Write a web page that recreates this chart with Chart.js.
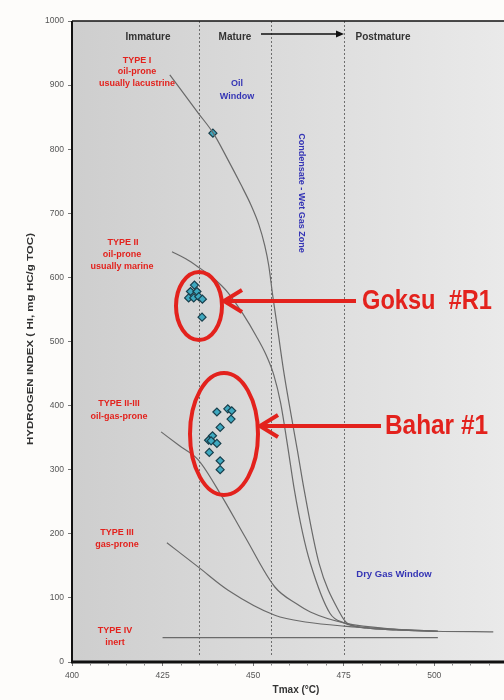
<!DOCTYPE html>
<html>
<head>
<meta charset="utf-8">
<script src="https://cdn.jsdelivr.net/npm/chart.js@4.4.1/dist/chart.umd.min.js"></script>
<style>
  html, body { margin: 0; padding: 0; background: #fdfcfa; overflow: hidden; }
  canvas { display: block; }
</style>
</head>
<body>
<canvas id="myChart" width="530" height="700"></canvas>
<script>
// kerogen type curves (Tmax, HI)
const typeI_T = [427, 434.9, 439, 443.1, 446.7, 449.4, 451.6, 453.2, 454.3, 455.4, 456.8, 458.4, 460, 462.2, 464.1, 468.2, 474, 475.9, 481.3, 489.5, 500.4, 516.3];
const typeI_HI = [916, 856, 825, 783, 744, 713, 682, 650, 619, 572, 518, 455, 401, 331, 268, 154, 76, 61, 53, 50, 48, 47];
const typeII_T = [427.6, 431.4, 434.9, 439, 443.1, 447.2, 450.8, 453.5, 455.7, 457.6, 459.5, 461.4, 463.6, 465.8, 471.2, 475.1, 481.3, 489.5, 501];
const typeII_HI = [640, 629, 616, 599, 576, 543, 509, 480, 448, 404, 338, 268, 203, 154, 76, 61, 53, 50, 48];
const typeII_III_T = [424.6, 429.5, 434.9, 441.2, 447.8, 456, 462.2, 465.8, 475.1, 489.5, 501];
const typeII_III_HI = [359, 338, 315, 260, 195, 117, 90, 78, 61, 51, 48];
const typeIII_T = [426.2, 434.9, 443.1, 456, 465, 475.1, 489.5, 501];
const typeIII_HI = [186, 148, 112, 73, 62, 56, 51, 48];
const typeIV_T = [425, 501];
const typeIV_HI = [38, 38];

// samples
const goksuT = [438.9, 433.8, 432.7, 434.5, 432.2, 433.6, 435, 436, 435.9];
const goksuHI = [825, 588, 578, 578, 568, 568, 570, 566, 538];
const baharT = [440, 443, 444.1, 443.9, 440.9, 438.8, 437.7, 438.4, 440, 437.9, 440.9, 440.9];
const baharHI = [390, 395, 392, 379, 366, 353, 346, 345, 341, 327, 314, 300];

// maturity zone boundaries
const zoneT = [435, 455, 475];

const xTicks = [400, 425, 450, 475, 500, 525];
const yTicks = [0, 100, 200, 300, 400, 500, 600, 700, 800, 900, 1000];

const pts = (xs, ys) => xs.map((x, i) => ({ x: x, y: ys[i] }));

function curve(xs, ys) {
    return {
        data: pts(xs, ys),
        showLine: true,
        borderColor: "#6a6a6a",
        borderWidth: 1.2,
        pointRadius: 0,
        cubicInterpolationMode: "monotone",
        fill: false,
    };
}

function samples(xs, ys) {
    return {
        data: pts(xs, ys),
        pointStyle: "rectRot",
        pointRadius: 4,
        backgroundColor: "#3fa9c0",
        borderColor: "#183f4c",
        borderWidth: 1.2,
    };
}

const RED = "#e3221d";
const BLUE = "#3535b5";
const FONT = "'Liberation Sans', Arial, sans-serif";

const labels = [
    { t: "Immature", x: 148, y: 37, c: "#333", f: "bold 10px " + FONT },
    { t: "Mature", x: 235, y: 37, c: "#333", f: "bold 10px " + FONT },
    { t: "Postmature", x: 383, y: 37, c: "#333", f: "bold 10px " + FONT },
    { t: "TYPE I", x: 137, y: 61, c: RED, f: "bold 9px " + FONT },
    { t: "oil-prone", x: 137, y: 72, c: RED, f: "bold 9px " + FONT },
    { t: "usually lacustrine", x: 137, y: 84, c: RED, f: "bold 9px " + FONT },
    { t: "Oil", x: 237, y: 84, c: BLUE, f: "bold 9px " + FONT },
    { t: "Window", x: 237, y: 97, c: BLUE, f: "bold 9px " + FONT },
    { t: "TYPE II", x: 123, y: 243, c: RED, f: "bold 9px " + FONT },
    { t: "oil-prone", x: 122, y: 255, c: RED, f: "bold 9px " + FONT },
    { t: "usually marine", x: 122, y: 267, c: RED, f: "bold 9px " + FONT },
    { t: "TYPE II-III", x: 119, y: 404, c: RED, f: "bold 9px " + FONT },
    { t: "oil-gas-prone", x: 119, y: 417, c: RED, f: "bold 9px " + FONT },
    { t: "TYPE III", x: 117, y: 533, c: RED, f: "bold 9px " + FONT },
    { t: "gas-prone", x: 117, y: 545, c: RED, f: "bold 9px " + FONT },
    { t: "TYPE IV", x: 115, y: 631, c: RED, f: "bold 9px " + FONT },
    { t: "inert", x: 115, y: 643, c: RED, f: "bold 9px " + FONT },
    { t: "Dry Gas Window", x: 394, y: 574, c: BLUE, f: "bold 9.5px " + FONT },
    { t: "Tmax (°C)", x: 296, y: 690, c: "#333", f: "bold 10px " + FONT },
];

const decorPlugin = {
    id: "decor",
    beforeDraw(chart) {
        const ctx = chart.ctx, a = chart.chartArea;
        ctx.save();
        ctx.fillStyle = "#fdfcfa";
        ctx.fillRect(0, 0, chart.width, chart.height);
        const g = ctx.createLinearGradient(a.left, 0, a.right, 0);
        g.addColorStop(0, "#cecece");
        g.addColorStop(1, "#ebebeb");
        ctx.fillStyle = g;
        ctx.fillRect(a.left, a.top, a.right - a.left, a.bottom - a.top);
        ctx.restore();
    },
    beforeDatasetsDraw(chart) {
        const ctx = chart.ctx, a = chart.chartArea, xs = chart.scales.x;
        ctx.save();
        ctx.strokeStyle = "#6e6e6e";
        ctx.lineWidth = 1;
        ctx.setLineDash([2, 2]);
        zoneT.forEach(t => {
            const px = Math.round(xs.getPixelForValue(t)) + 0.5;
            ctx.beginPath();
            ctx.moveTo(px, a.top);
            ctx.lineTo(px, a.bottom - 5);
            ctx.stroke();
        });
        ctx.restore();
    },
    afterDatasetsDraw(chart) {
        const ctx = chart.ctx, a = chart.chartArea, xs = chart.scales.x;
        ctx.save();
        // frame
        ctx.strokeStyle = "#111";
        ctx.lineWidth = 1.5;
        ctx.beginPath();
        ctx.moveTo(a.left, a.top);
        ctx.lineTo(a.right, a.top);
        ctx.stroke();
        ctx.lineWidth = 2;
        ctx.beginPath();
        ctx.moveTo(a.left, a.top);
        ctx.lineTo(a.left, a.bottom);
        ctx.stroke();
        ctx.lineWidth = 3;
        ctx.beginPath();
        ctx.moveTo(a.left - 1, a.bottom);
        ctx.lineTo(a.right, a.bottom);
        ctx.stroke();

        // minor ticks on x
        ctx.strokeStyle = "#888";
        ctx.lineWidth = 1;
        for (let t = 405; t < 525; t += 5) {
            if (t % 25 === 0) continue;
            const px = Math.round(xs.getPixelForValue(t)) + 0.5;
            ctx.beginPath();
            ctx.moveTo(px, a.bottom + 1.5);
            ctx.lineTo(px, a.bottom + 3.5);
            ctx.stroke();
        }

        // mature arrow
        ctx.strokeStyle = "#111";
        ctx.fillStyle = "#111";
        ctx.lineWidth = 1.5;
        ctx.beginPath();
        ctx.moveTo(261, 34);
        ctx.lineTo(338, 34);
        ctx.stroke();
        ctx.beginPath();
        ctx.moveTo(344, 34);
        ctx.lineTo(336, 30.5);
        ctx.lineTo(336, 37.5);
        ctx.closePath();
        ctx.fill();

        // text labels
        ctx.textAlign = "center";
        ctx.textBaseline = "middle";
        labels.forEach(l => {
            ctx.fillStyle = l.c;
            ctx.font = l.f;
            ctx.fillText(l.t, l.x, l.y);
        });

        ctx.save();
        ctx.translate(301, 193);
        ctx.rotate(Math.PI / 2);
        ctx.fillStyle = BLUE;
        ctx.font = "bold 9px " + FONT;
        ctx.fillText("Condensate - Wet Gas Zone", 0, 0);
        ctx.restore();

        ctx.save();
        ctx.translate(30, 339);
        ctx.rotate(-Math.PI / 2);
        ctx.fillStyle = "#333";
        ctx.font = "bold 9.5px " + FONT;
        fitText(ctx, "HYDROGEN INDEX ( HI, mg HC/g TOC)", 0, 0, 212);
        ctx.restore();

        // red annotations
        ctx.strokeStyle = RED;
        ctx.fillStyle = RED;
        ctx.lineWidth = 4;
        ctx.beginPath();
        ctx.ellipse(199, 306, 23, 34, 0, 0, Math.PI * 2);
        ctx.stroke();
        ctx.beginPath();
        ctx.ellipse(224, 434, 34, 61, 0, 0, Math.PI * 2);
        ctx.stroke();
        arrow(ctx, 356, 301, 224, 301);
        arrow(ctx, 381, 426, 260, 426);

        ctx.font = "bold 28px 'Liberation Sans Narrow', " + FONT;
        fitText(ctx, "Goksu  #R1", 362, 301, 130, "left");
        fitText(ctx, "Bahar #1", 385, 426, 103, "left");
        ctx.restore();
    },
};

function fitText(ctx, text, x, y, width, align) {
    const w = ctx.measureText(text).width;
    const k = width / w;
    ctx.save();
    ctx.translate(x, y);
    ctx.scale(k, 1);
    ctx.textAlign = align || "center";
    ctx.fillText(text, 0, 0);
    ctx.restore();
}

function arrow(ctx, x1, y1, x2, y2) {
    ctx.beginPath();
    ctx.moveTo(x1, y1);
    ctx.lineTo(x2 + 2, y2);
    ctx.stroke();
    ctx.beginPath();
    ctx.moveTo(x2 + 18, y2 - 11);
    ctx.lineTo(x2, y2);
    ctx.lineTo(x2 + 18, y2 + 11);
    ctx.stroke();
}

const ctx = document.getElementById("myChart");
new Chart(ctx, {
    type: "scatter",
    data: {
        datasets: [
            curve(typeI_T, typeI_HI),
            curve(typeII_T, typeII_HI),
            curve(typeII_III_T, typeII_III_HI),
            curve(typeIII_T, typeIII_HI),
            curve(typeIV_T, typeIV_HI),
            samples(goksuT, goksuHI),
            samples(baharT, baharHI),
        ],
    },
    options: {
        responsive: false,
        animation: false,
        devicePixelRatio: 1,
        layout: { padding: { top: 21, left: 0, right: 0, bottom: 0 } },
        plugins: { legend: { display: false }, tooltip: { enabled: false } },
        scales: {
            x: {
                type: "linear",
                min: 400,
                max: 525,
                afterBuildTicks: s => { s.ticks = xTicks.map(v => ({ value: v })); },
                afterFit: s => { s.height = 38; },
                ticks: {
                    color: "#555",
                    font: { size: 8.5, family: FONT },
                    padding: 5,
                    maxRotation: 0,
                    callback: v => (v > 500 ? "" : String(v)),
                },
                grid: { drawOnChartArea: false, tickLength: 4, color: "#777" },
                border: { display: false },
            },
            y: {
                min: 0,
                max: 1000,
                afterBuildTicks: s => { s.ticks = yTicks.map(v => ({ value: v })); },
                afterFit: s => { s.width = 72; },
                ticks: {
                    color: "#555",
                    font: { size: 8.5, family: FONT },
                    padding: 4,
                    callback: v => String(v),
                },
                grid: { drawOnChartArea: false, tickLength: 4, color: "#777" },
                border: { display: false },
            },
        },
    },
    plugins: [decorPlugin],
});
</script>
</body>
</html>
